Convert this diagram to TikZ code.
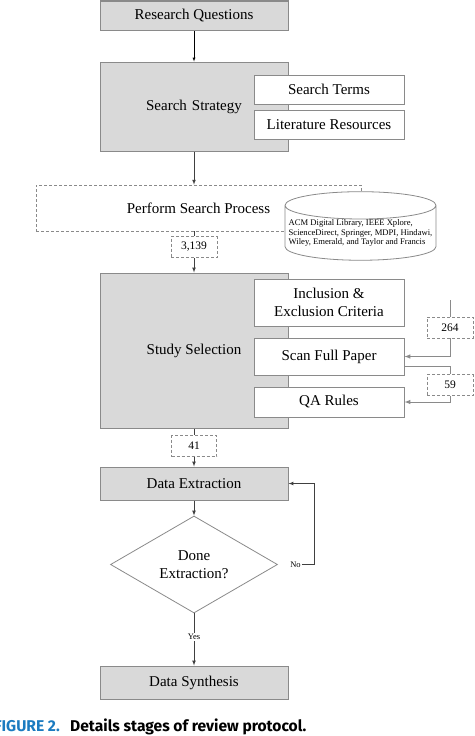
\documentclass[tikz,border=0pt]{standalone}
\usepackage{fontspec}
\setmainfont{Liberation Serif}
\newfontfamily\captionfont{Fira Sans}
\usetikzlibrary{arrows}
\usetikzlibrary{shapes}
\usetikzlibrary{shapes.geometric}
\definecolor{boxgray}{HTML}{D9D9D9}
\definecolor{edgegray}{HTML}{8A8A8A}
\definecolor{figblue}{HTML}{1B7BC0}

\begin{document}
\begin{tikzpicture}[x=1pt, y=1pt]
\tikzset{
   >=latex,
   stage/.style = {rectangle, draw = edgegray, line width = 1pt, fill = boxgray, minimum width = 188pt, inner sep = 0pt, align = center, font = \fontsize{15}{18}\selectfont},
   small_stage/.style = {stage, minimum height = 33pt},
   sub_stage/.style = {rectangle, draw = edgegray, line width = 1pt, fill = white, minimum width = 150pt, inner sep = 0pt, align = center, font = \fontsize{15}{18}\selectfont},
   count/.style = {rectangle, draw = edgegray, densely dashed, line width = 0.6pt, fill = white, minimum width = 46pt, minimum height = 21pt, inner sep = 0pt, font = \fontsize{11.5}{13}\selectfont},
   tag/.style = {inner sep = 1pt, font = \fontsize{8.5}{10}\selectfont},
   flow/.style = {->, draw = black!75, line width = 0.7pt},
   plain/.style = {draw = black!75, line width = 0.7pt},
   feed/.style = {->, draw = edgegray, line width = 1pt}
}
  \useasboundingbox (0,-736) rectangle (474,0);

  \node[stage, minimum height = 29pt] (rq) at (194,-15.5) {Research Questions};
  \node[stage, minimum height = 89pt, text width = 188pt] (strategy) [below of = rq, node distance = 91pt] {Search Strategy\hspace*{0pt}}
        edge [<-] (rq);
  \node[sub_stage, minimum height = 29pt] (terms) [right of = strategy, node distance = 135pt, yshift = 17pt] {Search Terms};
  \node[sub_stage, minimum height = 29pt] (literature) [below of = terms, node distance = 35pt] {Literature Resources};

  \node[rectangle, draw = edgegray, densely dashed, line width = 0.6pt, fill = white, minimum width = 325pt, minimum height = 46pt, font = \fontsize{15}{18}\selectfont] (perform) [below of = strategy, node distance = 101.5pt, xshift = 4.5pt] {Perform Search Process};
  \node[cylinder, shape border rotate = 90, aspect = 0.19, draw = edgegray, line width = 0.8pt, fill = white, minimum width = 151pt, minimum height = 59pt, inner sep = 0pt, align = left, font = \fontsize{8.6}{9.7}\selectfont] (library) [right of = perform, node distance = 162pt, yshift = -25pt] {ACM Digital Library, IEEE Xplore,\\ScienceDirect, Springer, MDPI, Hindawi,\\Wiley, Emerald, and Taylor and Francis};
  \node[count] (n3139) [below of = perform, node distance = 39pt, xshift = -4.5pt] {3,139};

  \node[stage, minimum height = 155pt] (selection) [below of = strategy, node distance = 244pt] {Study Selection};
  \node[sub_stage, minimum height = 47pt] (inclusion) [right of = selection, node distance = 135pt, yshift = 48pt] {Inclusion \&\\Exclusion Criteria};
  \node[sub_stage, minimum height = 37pt] (scan) [below of = inclusion, node distance = 54pt] {Scan Full Paper};
  \node[sub_stage, minimum height = 30pt] (qa) [below of = scan, node distance = 45.5pt] {QA Rules};
  \node[count] (n264) [right of = scan, node distance = 121pt, yshift = 29pt] {264};
  \node[count] (n59) [right of = qa, node distance = 121pt, yshift = 17pt] {59};
  \coordinate (src264) at (450,-300);

  \node[count, minimum width = 45pt] (n41) [below of = selection, node distance = 95.5pt] {41};
  \node[small_stage] (extract) [below of = selection, node distance = 133pt] {Data Extraction};
  \node[diamond, draw = edgegray, line width = 0.8pt, fill = white, aspect = 1.72, minimum width = 167pt, minimum height = 97pt, inner sep = 0pt, align = center, font = \fontsize{15}{18}\selectfont] (done) [below of = extract, node distance = 81pt] {Done\\Extraction?};
  \node[small_stage] (synth) [below of = done, node distance = 118pt] {Data Synthesis};
  \node[tag] (no) [right of = done, node distance = 101.5pt] {No};
  \node[tag] (yes) [below of = done, node distance = 72.5pt] {Yes};
  \coordinate (noturn) at (314,-564.5);

  % main flow
  \draw[flow] (strategy.south) -- (strategy.south |- perform.north);
  \draw[plain] (n3139.north |- perform.south) -- (n3139.north);
  \draw[flow] (n3139.south) -- (n3139.south |- selection.north);
  \draw[plain] (selection.south) -- (n41.north);
  \draw[flow] (n41.south) -- (extract.north);
  \draw[flow] (extract.south) -- (done.north);
  \draw[plain] (done.south) -- (yes.north);
  \draw[flow] (yes.south) -- (synth.north);
  \draw[flow] (no.east) -- (noturn) |- (extract.east);

  % screening counts
  \draw[feed, -] (src264) -- (n264.north);
  \draw[feed] (n264.south) |- (scan.east);
  \draw[feed, -] ([yshift = -9.5pt]scan.east) -| (n59.north);
  \draw[feed] (n59.south) |- (qa.east);

  % caption
  \node[anchor = base east, inner sep = 0pt, text = figblue, font = \captionfont\bfseries\fontsize{15.6}{18}\selectfont] (figlabel) at (60,-731) {FIGURE 2.};
  \node[anchor = base west, inner sep = 0pt, font = \captionfont\bfseries\fontsize{15.6}{18}\selectfont] (figtitle) at (70,-731) {Details stages of review protocol.};

\end{tikzpicture}
\end{document}
